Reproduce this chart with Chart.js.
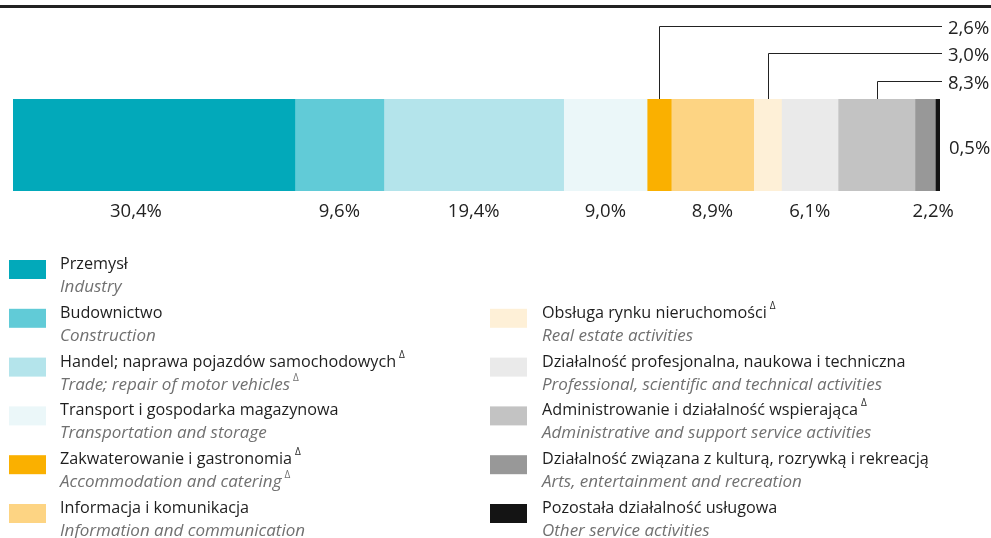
<!DOCTYPE html>
<html>
<head>
<meta charset="utf-8">
<script src="https://cdn.jsdelivr.net/npm/chart.js@4/dist/chart.umd.min.js"></script>
<style>
  body { margin: 0; background: #fff; }
  #wrap { position: relative; width: 991px; height: 538px; }
</style>
</head>
<body>
<div id="wrap"><canvas id="sectorChart" width="991" height="538"></canvas></div>
<script>
// DANE

const sectorsPl = [
  'Przemysł',
  'Budownictwo',
  'Handel; naprawa pojazdów samochodowych',
  'Transport i gospodarka magazynowa',
  'Zakwaterowanie i gastronomia',
  'Informacja i komunikacja',
  'Obsługa rynku nieruchomości',
  'Działalność profesjonalna, naukowa i techniczna',
  'Administrowanie i działalność wspierająca',
  'Działalność związana z kulturą, rozrywką i rekreacją',
  'Pozostała działalność usługowa',
]
const sectorsEn = [
  'Industry',
  'Construction',
  'Trade; repair of motor vehicles',
  'Transportation and storage',
  'Accommodation and catering',
  'Information and communication',
  'Real estate activities',
  'Professional, scientific and technical activities',
  'Administrative and support service activities',
  'Arts, entertainment and recreation',
  'Other service activities',
]
const deltaPl = [0, 0, 1, 0, 1, 0, 1, 0, 1, 0, 0]
const deltaEn = [0, 0, 1, 0, 1, 0, 0, 0, 0, 0, 0]
const shares = [30.4, 9.6, 19.4, 9.0, 2.6, 8.9, 3.0, 6.1, 8.3, 2.2, 0.5]
const colors = [
  '#02a9ba', '#61cbd7', '#b4e4eb', '#ebf7f9', '#fab000', '#fdd483',
  '#fef0d7', '#eaeaea', '#c3c3c3', '#989898', '#141414',
]

// które etykiety idą nad słupek (indeks -> poziom linii)
const calloutLevel = { 4: 0, 6: 1, 8: 2 }
const calloutY = [26, 53, 81]
const labelNudge = { 0: -18, 9: 8 }

const fmt = (v) => v.toFixed(1).replace('.', ',') + '%'

// PLUGIN: etykiety, linie, legenda

const drawWithDelta = function (c, text, x, y, delta, color) {
  c.fillStyle = color
  c.fillText(text, x, y)
  if (delta) {
    const w = c.measureText(text).width
    const f = c.font
    c.font = '10px "Open Sans"'
    c.fillText('Δ', x + w + 3, y - 9)
    c.font = f
  }
}

const labelPlugin = {
  id: 'segmentLabels',
  beforeDraw(chart) {
    const c = chart.ctx
    c.save()
    c.fillStyle = '#222'
    c.fillRect(0, 5, chart.width, 3)
    c.restore()
  },
  afterDatasetsDraw(chart) {
    const c = chart.ctx
    const area = chart.chartArea
    c.save()
    c.font = '18.5px "Open Sans"'
    c.fillStyle = '#222'
    c.strokeStyle = '#222'
    c.lineWidth = 1
    c.textBaseline = 'alphabetic'

    shares.forEach((v, i) => {
      const bar = chart.getDatasetMeta(i).data[0]
      const mid = (bar.x + bar.base) / 2
      if (calloutLevel[i] !== undefined) {
        const ly = calloutY[calloutLevel[i]] + 0.5
        const lx = Math.round(mid) + 0.5
        c.beginPath()
        c.moveTo(lx, area.top)
        c.lineTo(lx, ly)
        c.lineTo(area.right + 2, ly)
        c.stroke()
        c.textAlign = 'left'
        c.fillText(fmt(v), area.right + 8, ly + 7)
      } else if (i === shares.length - 1) {
        c.textAlign = 'left'
        c.fillText(fmt(v), area.right + 9, 154)
      } else {
        c.textAlign = 'center'
        c.fillText(fmt(v), mid + (labelNudge[i] || 0), 217)
      }
    })

    // legenda
    c.textAlign = 'left'
    sectorsPl.forEach((name, i) => {
      const col = i < 6 ? 0 : 1
      const row = i < 6 ? i : i - 5
      const base = 269 + row * 48.8
      const sx = col ? 490 : 9
      const tx = col ? 542 : 60
      c.fillStyle = colors[i]
      c.fillRect(sx, base - 9, 37, 19)
      c.font = '16.2px "Open Sans"'
      drawWithDelta(c, name, tx, base, deltaPl[i], '#1e1e1e')
      c.font = 'italic 17px "Open Sans"'
      drawWithDelta(c, sectorsEn[i], tx, base + 23, deltaEn[i], '#707070')
    })
    c.restore()
  },
}

// WYKRES

const ctx = document.getElementById('sectorChart').getContext('2d')

const sectorChart = new Chart(ctx, {
  type: 'bar',
  data: {
    labels: ['2023'],
    datasets: shares.map((v, i) => ({
      label: sectorsPl[i],
      data: [v],
      backgroundColor: colors[i],
      borderWidth: 0,
      barPercentage: 1,
      categoryPercentage: 1,
    })),
  },
  options: {
    indexAxis: 'y',
    responsive: false,
    animation: false,
    devicePixelRatio: 1,
    layout: {
      padding: { left: 13, right: 51, top: 99, bottom: 347 },
    },
    scales: {
      x: { stacked: true, min: 0, max: 100, display: false },
      y: { stacked: true, display: false },
    },
    plugins: {
      legend: { display: false },
      tooltip: { enabled: false },
    },
  },
  plugins: [labelPlugin],
})
</script>
</body>
</html>
